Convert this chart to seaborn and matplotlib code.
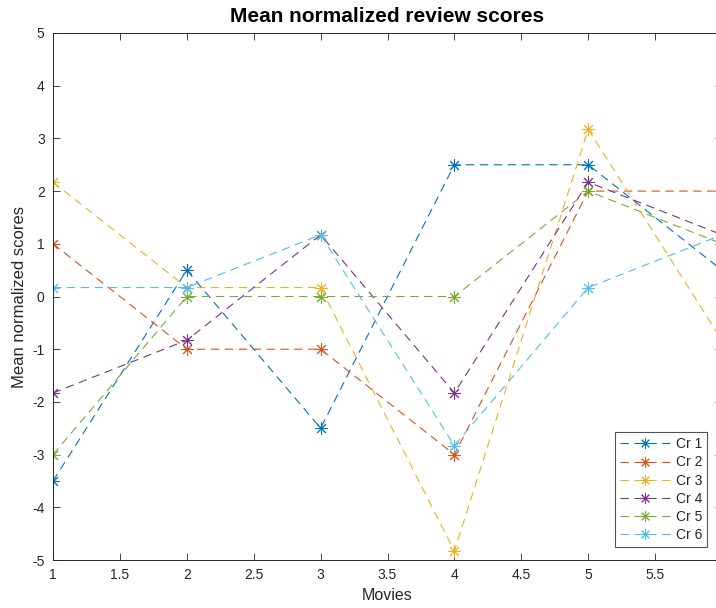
import numpy as np
import pandas as pd
import matplotlib
matplotlib.use("Agg")
import matplotlib.pyplot as plt
import seaborn as sns

movies = [1, 2, 3, 4, 5, 6]
critics = ["Cr 1", "Cr 2", "Cr 3", "Cr 4", "Cr 5", "Cr 6"]
cr1 = [-3.5, 0.5, -2.5, 2.5, 2.5, 0.5]
cr2 = [1.0, -1.0, -1.0, -3.0, 2.0, 2.0]
cr3 = [2.17, 0.17, 0.17, -4.83, 3.17, -0.83]
cr4 = [-1.83, -0.83, 1.17, -1.83, 2.17, 1.17]
cr5 = [-3.0, 0.0, 0.0, 0.0, 2.0, 1.0]
cr6 = [0.17, 0.17, 1.17, -2.83, 0.17, 1.17]
series = [cr1, cr2, cr3, cr4, cr5, cr6]
colors = ["#0072BD", "#D95319", "#EDB120", "#7E2F8E", "#77AC30", "#4DBEEE"]

sns.set_theme(style="ticks")
plt.rcParams["font.family"] = ["Liberation Sans", "DejaVu Sans"]
plt.rcParams["lines.scale_dashes"] = False

fig = plt.figure(figsize=(7.16, 6.08), dpi=100)
ax = fig.add_axes([53 / 716, 48 / 608, 669 / 716, 527 / 608])

handles = []
for name, vals, c in zip(critics, series, colors):
    df = pd.DataFrame({"Movie": movies, "Score": vals})
    n_before = len(ax.lines)
    sns.lineplot(data=df, x="Movie", y="Score", color=c, ax=ax, legend=False)
    ln = ax.lines[n_before]
    ln.set_linestyle((0, (6, 4)))
    ln.set_linewidth(0.8)
    ln.set_marker((8, 2, 0))
    ln.set_markersize(9)
    ln.set_markeredgewidth(0.7)
    ln.set_markeredgecolor(c)
    ln.set_markerfacecolor(c)
    ln.set_label(name)
    handles.append(ln)

ax.set_xlim(1, 6)
ax.set_ylim(-5, 5)
ax.set_xticks([1, 1.5, 2, 2.5, 3, 3.5, 4, 4.5, 5, 5.5])
ax.set_xticklabels(["1", "1.5", "2", "2.5", "3", "3.5", "4", "4.5", "5", "5.5"])
ax.set_yticks(range(-5, 6))
ax.set_yticklabels([str(v) for v in range(-5, 6)])
ax.tick_params(direction="in", top=True, right=True, length=5, width=0.6,
               labelsize=10, colors="#262626", pad=6)
for s in ax.spines.values():
    s.set_visible(True)
    s.set_color("#262626")
    s.set_linewidth(0.7)

ax.set_xlabel("Movies", fontsize=11.5, color="#262626", labelpad=4)
ax.set_ylabel("Mean normalized scores", fontsize=12, color="#262626", labelpad=4)
ax.set_title("Mean normalized review scores", fontsize=15, fontweight="bold",
             color="black", pad=8)

leg = ax.legend(handles, critics, loc="lower right",
                bbox_to_anchor=(654 / 669, 13 / 527, 0.0, 0.0),
                borderaxespad=0.0,
                fontsize=10, frameon=True, fancybox=False,
                edgecolor="#262626", handlelength=3.6, labelspacing=0.3,
                borderpad=0.35, handletextpad=0.4, markerscale=0.85)
leg.get_frame().set_linewidth(0.8)

fig.savefig("out.png", dpi=100)
